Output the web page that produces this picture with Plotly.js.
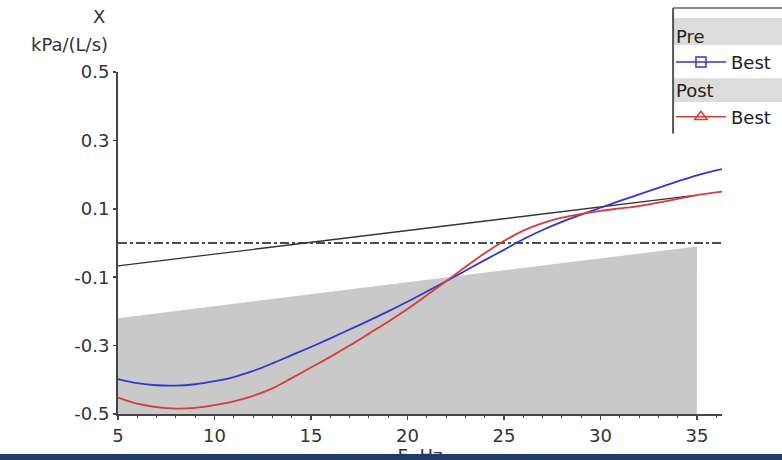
<!DOCTYPE html>
<html>
<head>
<meta charset="utf-8">
<script src="https://cdn.plot.ly/plotly-3.0.1.min.js"></script>
<style>
  html, body { margin: 0; padding: 0; background: #fff; overflow: hidden; width: 782px; height: 460px; }
  #chart { width: 782px; height: 466px; position: relative; }
  #bar { position: absolute; left: 0; top: 454px; width: 782px; height: 6px; background: #1f3c6a; z-index: 10; }
</style>
</head>
<body>
<div id="chart"></div>
<div id="bar"></div>
<script>
// ---- data ----
const freqHz = [5,6,7,8,9,10,11,12,13,14,15,16,17,18,19,20,21,22,23,24,25,26,27,28,29,30,31,32,33,34,35,36.3];
const preBest = [-0.398,-0.410,-0.416,-0.417,-0.413,-0.404,-0.392,-0.374,-0.352,-0.328,-0.304,-0.279,-0.253,-0.227,-0.200,-0.172,-0.142,-0.112,-0.081,-0.050,-0.020,0.011,0.038,0.062,0.083,0.103,0.123,0.142,0.161,0.180,0.198,0.216];
const postBest = [-0.452,-0.470,-0.480,-0.484,-0.482,-0.474,-0.463,-0.447,-0.425,-0.395,-0.364,-0.333,-0.300,-0.265,-0.230,-0.193,-0.153,-0.112,-0.070,-0.030,0.006,0.036,0.058,0.074,0.085,0.094,0.101,0.108,0.118,0.129,0.140,0.150];
const refLineX = [5, 35];
const refLineY = [-0.067, 0.140];
const shadeX = [5, 35];
const shadeTop = [-0.22, -0.01];
const shadeBottom = [-0.5, -0.5];
const zeroX = [5, 36.3];
const zeroY = [0, 0];
const xTicks = [5,10,15,20,25,30,35];
const yTicks = [-0.5,-0.3,-0.1,0.1,0.3,0.5];
const yTickText = ['-0.5','-0.3','-0.1','0.1','0.3','0.5'];

const FONT = 'DejaVu Sans, Liberation Sans, Arial, sans-serif';
const FS = 18;
const BLUE = '#3535cf';
const RED = '#d93a3a';

const traces = [
  {x: shadeX, y: shadeBottom, mode: 'lines', line: {width: 0}, showlegend: false, hoverinfo: 'skip'},
  {x: shadeX, y: shadeTop, mode: 'lines', line: {width: 0}, fill: 'tonexty', fillcolor: '#c9c9c9', showlegend: false, hoverinfo: 'skip'},
  {x: zeroX, y: zeroY, mode: 'lines', line: {color: '#111', width: 1.6, dash: 'dashdot'}, showlegend: false},
  {x: refLineX, y: refLineY, mode: 'lines', line: {color: '#333', width: 1.3}, showlegend: false},
  {x: freqHz, y: preBest, mode: 'lines', line: {color: BLUE, width: 1.8, shape: 'spline'}, showlegend: false},
  {x: freqHz, y: postBest, mode: 'lines', line: {color: RED, width: 1.8, shape: 'spline'}, showlegend: false},
  // legend entries
  {x: [null], y: [null], name: 'Best', mode: 'lines+markers', legendgroup: 'pre',
   legendgrouptitle: {text: 'Pre', font: {family: FONT, size: FS, color: '#222'}},
   line: {color: BLUE, width: 1.5}, marker: {symbol: 'square-open', size: 10, color: BLUE, line: {width: 1.5}}},
  {x: [null], y: [null], name: 'Best', mode: 'lines+markers', legendgroup: 'post',
   legendgrouptitle: {text: 'Post', font: {family: FONT, size: FS, color: '#222'}},
   line: {color: RED, width: 1.5}, marker: {symbol: 'triangle-up-open', size: 11, color: RED, line: {width: 1.5}}}
];

const layout = {
  width: 782, height: 466,
  margin: {l: 118, r: 60, t: 72, b: 52, autoexpand: false},
  paper_bgcolor: '#fff', plot_bgcolor: 'rgba(0,0,0,0)',
  font: {family: FONT, size: FS, color: '#333'},
  showlegend: true,
  legend: {
    x: 0.9155, xanchor: 'left', y: 1.16, yanchor: 'top',
    bgcolor: 'rgba(0,0,0,0)', borderwidth: 0,
    font: {family: FONT, size: FS, color: '#222'},
    itemwidth: 50,
    tracegroupgap: 2, traceorder: 'grouped'
  },
  xaxis: {
    range: [5, 36.3], tickmode: 'array', tickvals: xTicks, ticktext: xTicks.map(String),
    showgrid: false, zeroline: false, showline: true, linecolor: '#444', linewidth: 2,
    ticks: 'outside', ticklen: 4, tickwidth: 1.5, tickcolor: '#444',
    minor: {dtick: 1, ticks: 'outside', ticklen: 2, tickcolor: '#444', tickwidth: 1},
    tickfont: {family: FONT, size: FS, color: '#333'},
    title: {text: 'F, Hz', standoff: 3, font: {family: FONT, size: FS, color: '#333'}},
    fixedrange: true
  },
  yaxis: {
    range: [-0.5, 0.5], tickmode: 'array', tickvals: yTicks, ticktext: yTickText,
    showgrid: false, zeroline: false, showline: true, linecolor: '#444', linewidth: 2,
    ticks: 'outside', ticklen: 3, tickwidth: 1.5, tickcolor: '#444',
    tickfont: {family: FONT, size: FS, color: '#333'},
    fixedrange: true
  },
  annotations: [
    {xref: 'paper', yref: 'paper', x: -0.018, y: 1.163, xanchor: 'right', yanchor: 'middle',
     text: 'X', showarrow: false, font: {family: FONT, size: FS, color: '#333'}},
    {xref: 'paper', yref: 'paper', x: -0.013, y: 1.079, xanchor: 'right', yanchor: 'middle',
     text: 'kPa/(L/s)', showarrow: false, font: {family: FONT, size: FS, color: '#333'}}
  ],
  shapes: [
    // legend frame (left and top edges) and grey group-title bands
    {type: 'rect', xref: 'paper', yref: 'paper', x0: 0.92, x1: 1.2, y0: 1.079, y1: 1.158, fillcolor: '#dcdcdc', line: {width: 0}, layer: 'below'},
    {type: 'rect', xref: 'paper', yref: 'paper', x0: 0.92, x1: 1.2, y0: 0.912, y1: 0.982, fillcolor: '#dcdcdc', line: {width: 0}, layer: 'below'},
    {type: 'line', xref: 'paper', yref: 'paper', x0: 0.919, x1: 0.919, y0: 0.82, y1: 1.187, line: {color: '#555', width: 2}},
    {type: 'line', xref: 'paper', yref: 'paper', x0: 0.919, x1: 1.2, y0: 1.187, y1: 1.187, line: {color: '#666', width: 1.5}}
  ]
};

Plotly.newPlot('chart', traces, layout, {displayModeBar: false, staticPlot: true});
</script>
</body>
</html>
